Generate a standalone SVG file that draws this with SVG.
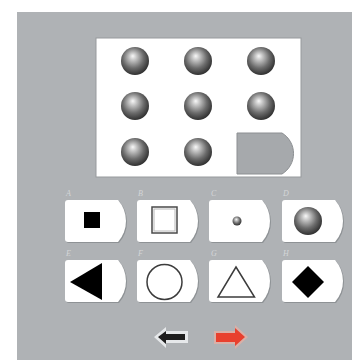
<svg xmlns="http://www.w3.org/2000/svg" width="352" height="360" viewBox="0 0 352 360">
<style>
.lbl{font-family:"Liberation Serif",serif;font-size:8px;font-style:italic;fill:#d4d6d8}
.tabS{fill:#8e9295}
.tab{fill:#ffffff}
.out{fill:#ffffff;stroke:#3c3c3c;stroke-width:1.5}
</style>
<defs>
<radialGradient id="sph" cx="0.45" cy="0.42" r="0.6" fx="0.42" fy="0.32">
<stop offset="0" stop-color="#f8f8f8"/>
<stop offset="0.2" stop-color="#cacaca"/>
<stop offset="0.62" stop-color="#6c6c6c"/>
<stop offset="1" stop-color="#2c2c2c"/>
</radialGradient>
<path id="tabShape" d="M3,0 H53 A31.6,31.6 0 0 1 53,42 H3 Q0,42 0,39 V3 Q0,0 3,0 Z"/>
<circle id="ball" r="14" fill="url(#sph)"/>
</defs>
<rect x="0" y="0" width="352" height="360" fill="#ffffff"/>
<rect x="17" y="12" width="335" height="348" fill="#afb2b5"/>
<g id="panel">
<rect x="96" y="38" width="205" height="139" fill="#ffffff" stroke="#979a9d" stroke-width="1"/>
<g id="spheres">
<use href="#ball" x="135" y="61"/>
<use href="#ball" x="198" y="61"/>
<use href="#ball" x="261" y="61"/>
<use href="#ball" x="135" y="106"/>
<use href="#ball" x="198" y="106"/>
<use href="#ball" x="261" y="106"/>
<use href="#ball" x="135" y="152"/>
<use href="#ball" x="198" y="152"/>
</g>
<path id="missing" d="M237,133 H282 A24,24 0 0 1 282,174 H237 Z" fill="#a6a9ac" stroke="#8c8f92" stroke-width="1"/>
</g>
<g id="optA">
<use href="#tabShape" class="tabS" x="66" y="201"/>
<use href="#tabShape" class="tab" x="65" y="200"/>
<text class="lbl" x="66" y="196">A</text>
<rect x="84" y="212" width="16" height="16" fill="#000000"/>
</g>
<g id="optB">
<use href="#tabShape" class="tabS" x="138" y="201"/>
<use href="#tabShape" class="tab" x="137" y="200"/>
<text class="lbl" x="138" y="196">B</text>
<rect x="152" y="207" width="25" height="26" fill="#ffffff" stroke="#4a4a4a" stroke-width="1.5"/>
<rect x="154" y="209" width="21" height="22" fill="none" stroke="#b8b8b8" stroke-width="1"/>
</g>
<g id="optC">
<use href="#tabShape" class="tabS" x="210" y="201"/>
<use href="#tabShape" class="tab" x="209" y="200"/>
<text class="lbl" x="211" y="196">C</text>
<circle cx="237" cy="221" r="4.5" fill="url(#sph)"/>
</g>
<g id="optD">
<use href="#tabShape" class="tabS" x="283" y="201"/>
<use href="#tabShape" class="tab" x="282" y="200"/>
<text class="lbl" x="283" y="196">D</text>
<use href="#ball" x="308" y="221"/>
</g>
<g id="optE">
<use href="#tabShape" class="tabS" x="66" y="261"/>
<use href="#tabShape" class="tab" x="65" y="260"/>
<text class="lbl" x="66" y="256">E</text>
<polygon points="70,282 102,263 102,300" fill="#000000"/>
</g>
<g id="optF">
<use href="#tabShape" class="tabS" x="138" y="261"/>
<use href="#tabShape" class="tab" x="137" y="260"/>
<text class="lbl" x="138" y="256">F</text>
<circle cx="164.5" cy="282" r="17.5" class="out"/>
</g>
<g id="optG">
<use href="#tabShape" class="tabS" x="210" y="261"/>
<use href="#tabShape" class="tab" x="209" y="260"/>
<text class="lbl" x="211" y="256">G</text>
<polygon points="236,267 254.5,297 218,297" class="out"/>
</g>
<g id="optH">
<use href="#tabShape" class="tabS" x="283" y="261"/>
<use href="#tabShape" class="tab" x="282" y="260"/>
<text class="lbl" x="283" y="256">H</text>
<polygon points="308,266 324,282 308,298 292,282" fill="#000000"/>
</g>
<g id="nav">
<g id="prev">
<polygon points="154,337 166,327 166,331 188,331 188,343 166,343 166,348" fill="#e6e8ea"/>
<polygon points="158,337 166,331 166,334 185,334 185,340 166,340 166,344" fill="#1e1e1e"/>
</g>
<g id="next">
<polygon points="248,337 235,325 235,331 214,331 214,344 235,344 235,349" fill="#d9b0a8"/>
<polygon points="245,337 235,328 235,333 216,333 216,342 235,342 235,346" fill="#e8402e"/>
</g>
</g>
</svg>
